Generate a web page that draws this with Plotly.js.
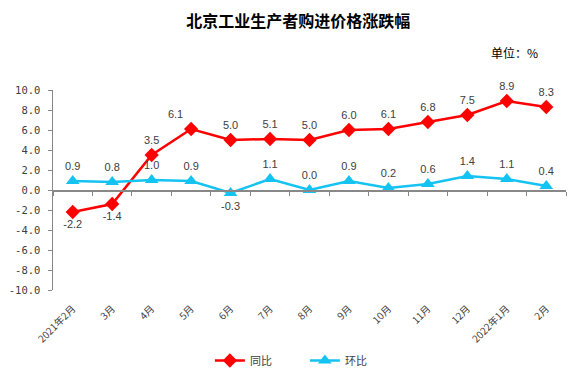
<!DOCTYPE html>
<html><head><meta charset="utf-8">
<script src="https://cdn.plot.ly/plotly-3.0.1.min.js"></script>
<style>html,body{margin:0;padding:0;background:#fff}#c{width:587px;height:377px}</style>
</head><body><div id="c"></div>
<script>
const months = ["2021年2月","3月","4月","5月","6月","7月","8月","9月","10月","11月","12月","2022年1月","2月"];
const yoy = [-2.2,-1.4,3.5,6.1,5.0,5.1,5.0,6.0,6.1,6.8,7.5,8.9,8.3];
const mom = [0.9,0.8,1.0,0.9,-0.3,1.1,0.0,0.9,0.2,0.6,1.4,1.1,0.4];
const yTicks = [-10,-8,-6,-4,-2,0,2,4,6,8,10];

const idx = months.map((_, i) => i);
const bounds = months.concat(['']).map((_, i) => i - 0.5);
const yoyPos = yoy.map((v, i) => v < 0 ? 'bottom center' : (i === 3 ? 'top left' : 'top center'));
const momPos = mom.map(v => v < 0 ? 'bottom center' : 'top center');
const lblFont = {family: 'Liberation Sans, Noto Sans, sans-serif', size: 11, color: '#404040'};

const traces = [
  {x: idx, y: yoy, name: '同比', type: 'scatter', mode: 'lines+markers+text',
   line: {color: '#FF0000', width: 2.5}, marker: {symbol: 'diamond', size: 11, color: '#FF0000'},
   text: yoy.map(v => v.toFixed(1)), textposition: yoyPos, textfont: lblFont, cliponaxis: false},
  {x: idx, y: mom, name: '环比', type: 'scatter', mode: 'lines+markers+text',
   line: {color: '#14C3F2', width: 2.5}, marker: {symbol: 'triangle-up', size: 12, color: '#14C3F2'},
   text: mom.map(v => v.toFixed(1)), textposition: momPos, textfont: lblFont, cliponaxis: false},
  {x: [], y: [], xaxis: 'x2', yaxis: 'y', type: 'scatter', mode: 'lines', showlegend: false, hoverinfo: 'skip'}
];

const layout = {
  width: 587, height: 377,
  margin: {l: 52.5, r: 20.5, t: 90, b: 87, autoexpand: false},
  paper_bgcolor: '#fff', plot_bgcolor: '#fff',
  showlegend: true,
  font: {family: 'Noto Sans CJK SC, sans-serif', color: '#404040'},
  title: {text: '<b>北京工业生产者购进价格涨跌幅</b>', xref: 'container', x: 0.508, xanchor: 'center',
          yref: 'container', y: 0.942, yanchor: 'middle',
          font: {family: 'Noto Sans CJK SC, sans-serif', size: 16, color: '#000'}},
  xaxis: {anchor: 'free', position: 0.5, side: 'bottom', range: [-0.5, 12.5], automargin: false,
          tickmode: 'array', tickvals: bounds, showticklabels: false, ticks: 'outside', ticklen: 4,
          tickcolor: '#888', showline: true, linecolor: '#888', linewidth: 1.5, showgrid: false, zeroline: false},
  xaxis2: {overlaying: 'x', anchor: 'y', side: 'bottom', range: [-0.5, 12.5], automargin: false,
           tickmode: 'array', tickvals: idx, ticktext: months, ticklabelstandoff: 10,
           tickangle: -45, showgrid: false, zeroline: false, showline: false, ticks: '',
           tickfont: {family: 'Noto Sans CJK SC, serif', size: 10, color: '#404040'}},
  yaxis: {range: [-10, 10], tickmode: 'array', tickvals: yTicks, ticktext: yTicks.map(v => v.toFixed(1)),
          automargin: false, showgrid: false, zeroline: false, showline: true, linecolor: '#888', linewidth: 1.5,
          ticks: 'outside', ticklen: 4, tickcolor: '#888', ticklabelstandoff: 5,
          tickfont: {family: 'DejaVu Sans Mono, monospace', size: 10.5, color: '#404040'}},
  legend: {orientation: 'h', x: 0.491, xanchor: 'center', y: -0.28, yanchor: 'top',
           entrywidth: 50, entrywidthmode: 'pixels',
           font: {family: 'Noto Sans CJK SC, sans-serif', size: 11, color: '#404040'}},
  annotations: [{text: '单位：%', xref: 'paper', yref: 'paper', x: 0.9, y: 1.19, showarrow: false,
                 xanchor: 'center', yanchor: 'middle',
                 font: {family: 'Noto Sans CJK SC, sans-serif', size: 12, color: '#000'}}]
};
Plotly.newPlot('c', traces, layout, {staticPlot: true});
</script></body></html>
